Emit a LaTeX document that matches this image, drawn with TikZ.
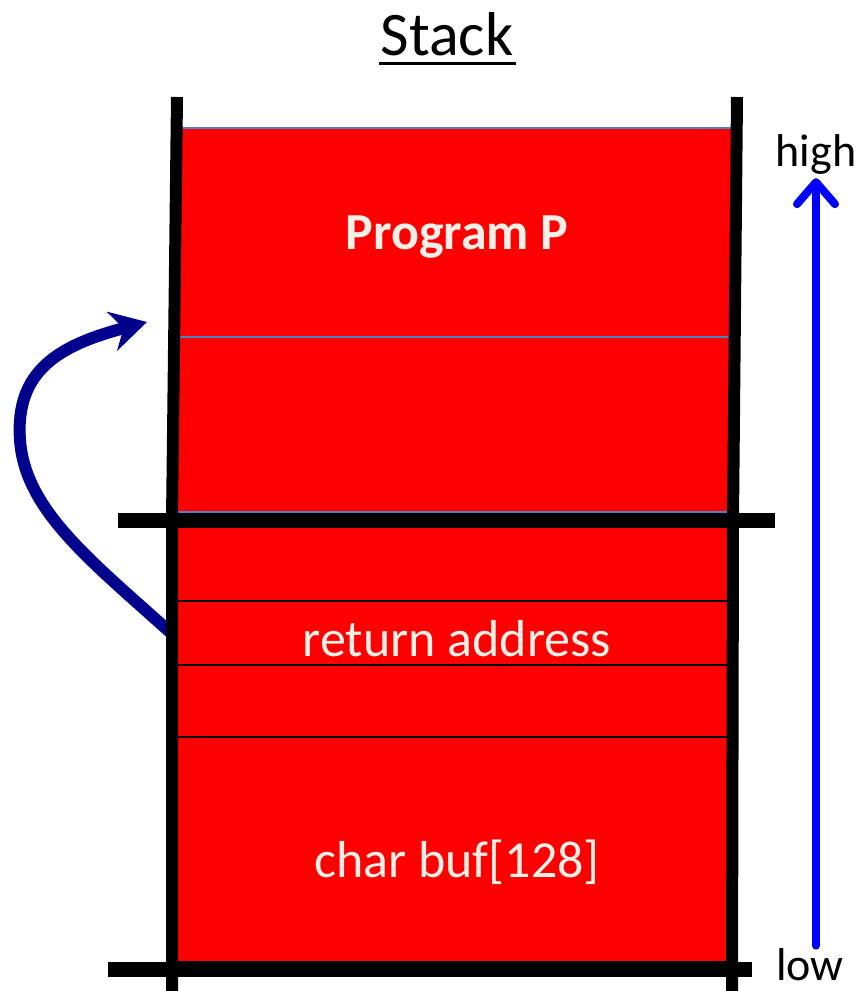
\documentclass[tikz,border=0pt]{standalone}
\usepackage{fontspec}
\setmainfont{Carlito}
\usetikzlibrary{arrows.meta}
\definecolor{stackred}{RGB}{255,0,0}
\definecolor{edgeblue}{RGB}{79,129,189}
\definecolor{navy}{RGB}{0,0,140}
\definecolor{cream}{RGB}{244,240,232}

\begin{document}
\begin{tikzpicture}[x=1pt, y=-1pt,
    upper/.style={rectangle, draw=edgeblue, line width=2pt, fill=stackred, minimum width=558pt, inner sep=0pt},
    frame/.style={rectangle, draw=black, line width=2pt, fill=stackred, minimum width=560pt, inner sep=0pt},
    lbl/.style={text=cream, font=\fontsize{52}{60}\selectfont, inner sep=0pt},
    side/.style={font=\fontsize{46}{52}\selectfont, inner sep=0pt},
    wall/.style={line width=12pt},
    bar/.style={line width=15pt}
]
    \useasboundingbox (0,0) rectangle (860,991);

    % title
    \node[font=\fontsize{62}{70}\selectfont, inner sep=0pt, anchor=base] (title) at (447,55) {Stack};
    \draw[line width=3pt] ([xshift=-2pt, yshift=-8pt]title.base west) -- ([xshift=2pt, yshift=-8pt]title.base east);

    % memory above the frame
    \node[upper, minimum height=209pt] (prog) at (455,232.5) {};
    \node[upper, minimum height=175pt] (free) at (455,424.5) {};
    \node[lbl] (progtext) at (457,237) {\bfseries Program P};

    % the frame
    \node[frame, minimum height=74pt] (slota) at (452,564) {};
    \node[frame, minimum height=64pt] (ret) at (452,633) {};
    \node[frame, minimum height=72pt] (slotb) at (452,701) {};
    \node[frame, minimum height=225pt] (buf) at (452,849.5) {};
    \node[lbl] (rettext) at (457,639) {return address};
    \node[lbl] (buftext) at (457,862) {char buf[128]};

    % jump to P
    \coordinate (jump) at (147,322);
    \draw[navy, line width=12pt, -{Stealth[length=36pt, width=40pt]}]
        (ret.west) .. controls (90,560) and (25,510) .. (20,440)
        .. controls (15,370) and (60,345) .. (jump);

    % walls
    \draw[wall] (177,97) -- (172,520) -- (172,991);
    \draw[wall] (737,97) -- (733,520) -- (732,991);
    \draw[bar] (118,520) -- (775,520);
    \draw[bar] (108,969) -- (752,969);

    % direction
    \node[side] (high) at (816,154) {high};
    \node[side] (low) at (810,965) {low};
    \draw[blue, line width=8pt, line cap=round, shorten <=3pt, -{Straight Barb[round, length=22pt, width=38pt]}]
        (high.south |- low.north) -- ([yshift=-4pt]high.south);
\end{tikzpicture}
\end{document}
